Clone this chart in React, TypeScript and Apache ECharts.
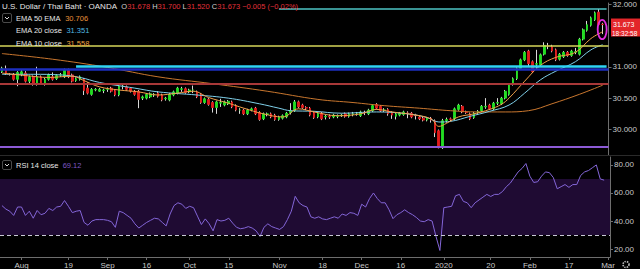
import React, { useEffect, useRef } from "react";
import * as echarts from "echarts";

// ---------- categories (FX trading days, no Christmas / New Year) ----------
const FIRST_DAY = [2019, 6, 25];
const LAST_DAY = [2020, 2, 2];
const HOLIDAYS = ["2019-12-25", "2020-01-01"];
function buildDates(): string[] {
  const out: string[] = [];
  const d = new Date(Date.UTC(FIRST_DAY[0], FIRST_DAY[1], FIRST_DAY[2]));
  const end = Date.UTC(LAST_DAY[0], LAST_DAY[1], LAST_DAY[2]);
  while (d.getTime() <= end) {
    const s = d.toISOString().slice(0, 10);
    const wd = d.getUTCDay();
    if (wd !== 0 && wd !== 6 && !HOLIDAYS.includes(s)) out.push(s);
    d.setUTCDate(d.getUTCDate() + 1);
  }
  return out;
}
const dates = buildDates();

const tickDates = ["2019-08-01", "2019-08-19", "2019-09-02", "2019-09-16", "2019-10-01", "2019-10-15", "2019-11-01", "2019-11-18", "2019-12-02", "2019-12-16", "2020-01-02", "2020-01-20", "2020-02-03", "2020-02-17", "2020-03-02"];
const tickLabels = ["Aug", "19", "Sep", "16", "Oct", "15", "Nov", "18", "Dec", "16", "2020", "20", "Feb", "17", "Mar"];

const priceTicks = [30, 30.5, 31, 32];
const rsiTicks = [20, 40, 60, 80];

// ---------- daily candles [open, close, low, high] ----------
const ohlc: number[][] = [
  [30.92, 30.98, 30.90, 31.00], [30.97, 30.89, 30.87, 31.02], [30.88, 30.88, 30.86, 30.90], [30.88, 30.80, 30.78, 30.90], [30.80, 30.91, 30.69, 30.93],
  [30.88, 30.92, 30.85, 30.95], [30.90, 30.77, 30.75, 30.93], [30.77, 30.84, 30.74, 30.86], [30.84, 30.72, 30.70, 30.86], [30.72, 30.84, 30.70, 31.00],
  [30.84, 30.74, 30.72, 30.86], [30.72, 30.80, 30.70, 30.82], [30.80, 30.87, 30.78, 30.89], [30.84, 30.80, 30.78, 30.91], [30.81, 30.86, 30.79, 30.88],
  [30.87, 30.87, 30.84, 30.90], [30.84, 30.95, 30.82, 30.97], [30.95, 30.84, 30.82, 30.97], [30.87, 30.77, 30.75, 30.89], [30.78, 30.81, 30.76, 30.83],
  [30.80, 30.84, 30.78, 30.86], [30.80, 30.62, 30.55, 30.82], [30.66, 30.58, 30.56, 30.75], [30.56, 30.64, 30.54, 30.66], [30.63, 30.64, 30.61, 30.66],
  [30.61, 30.64, 30.60, 30.66], [30.62, 30.63, 30.58, 30.65], [30.64, 30.64, 30.60, 30.67], [30.66, 30.61, 30.59, 30.68], [30.62, 30.55, 30.53, 30.64],
  [30.55, 30.69, 30.53, 30.71], [30.69, 30.69, 30.64, 30.73], [30.68, 30.64, 30.62, 30.70], [30.66, 30.61, 30.59, 30.67], [30.61, 30.56, 30.54, 30.63],
  [30.61, 30.48, 30.34, 30.63], [30.50, 30.52, 30.47, 30.54], [30.50, 30.56, 30.48, 30.58], [30.52, 30.57, 30.50, 30.59], [30.55, 30.56, 30.52, 30.58],
  [30.58, 30.53, 30.51, 30.61], [30.55, 30.47, 30.45, 30.57], [30.49, 30.50, 30.46, 30.52], [30.47, 30.56, 30.45, 30.58], [30.55, 30.60, 30.53, 30.62],
  [30.58, 30.66, 30.56, 30.68], [30.64, 30.65, 30.60, 30.68], [30.65, 30.59, 30.57, 30.67], [30.60, 30.63, 30.58, 30.65], [30.63, 30.63, 30.58, 30.70],
  [30.60, 30.52, 30.50, 30.62], [30.56, 30.43, 30.41, 30.58], [30.43, 30.49, 30.41, 30.51], [30.48, 30.40, 30.38, 30.50], [30.43, 30.35, 30.27, 30.45],
  [30.35, 30.44, 30.25, 30.46], [30.42, 30.43, 30.36, 30.49], [30.39, 30.44, 30.37, 30.46], [30.41, 30.45, 30.39, 30.47], [30.44, 30.36, 30.34, 30.46],
  [30.38, 30.31, 30.29, 30.40], [30.31, 30.31, 30.25, 30.34], [30.31, 30.25, 30.23, 30.33], [30.25, 30.31, 30.23, 30.33], [30.31, 30.33, 30.29, 30.35],
  [30.34, 30.25, 30.23, 30.36], [30.27, 30.16, 30.14, 30.29], [30.17, 30.25, 30.15, 30.27], [30.24, 30.25, 30.21, 30.27], [30.25, 30.20, 30.18, 30.27],
  [30.23, 30.16, 30.14, 30.25], [30.16, 30.20, 30.14, 30.22], [30.18, 30.22, 30.16, 30.24], [30.20, 30.26, 30.18, 30.28], [30.27, 30.30, 30.24, 30.42],
  [30.30, 30.44, 30.28, 30.47], [30.44, 30.36, 30.34, 30.46], [30.39, 30.35, 30.33, 30.41], [30.35, 30.34, 30.31, 30.37], [30.34, 30.23, 30.21, 30.36],
  [30.27, 30.19, 30.17, 30.29], [30.20, 30.26, 30.18, 30.28], [30.26, 30.17, 30.15, 30.28], [30.20, 30.21, 30.16, 30.24], [30.21, 30.20, 30.17, 30.24],
  [30.20, 30.23, 30.18, 30.25], [30.21, 30.22, 30.18, 30.24], [30.22, 30.23, 30.20, 30.25], [30.25, 30.21, 30.19, 30.27], [30.21, 30.25, 30.19, 30.27],
  [30.24, 30.25, 30.21, 30.28], [30.25, 30.25, 30.22, 30.28], [30.22, 30.28, 30.20, 30.30], [30.27, 30.27, 30.23, 30.30], [30.25, 30.31, 30.23, 30.33],
  [30.30, 30.38, 30.28, 30.40], [30.40, 30.34, 30.32, 30.42], [30.37, 30.30, 30.28, 30.39], [30.31, 30.31, 30.28, 30.34], [30.32, 30.25, 30.22, 30.34],
  [30.27, 30.23, 30.17, 30.29], [30.21, 30.25, 30.16, 30.27], [30.23, 30.26, 30.21, 30.28], [30.24, 30.28, 30.22, 30.30], [30.26, 30.26, 30.18, 30.29],
  [30.26, 30.20, 30.18, 30.28], [30.23, 30.22, 30.16, 30.25], [30.20, 30.17, 30.15, 30.22], [30.18, 30.15, 30.13, 30.20], [30.15, 30.18, 30.13, 30.20],
  [30.18, 30.15, 30.11, 30.20], [30.14, 29.95, 29.88, 30.16], [29.98, 29.71, 29.70, 30.00], [29.71, 30.14, 29.69, 30.17], [30.14, 30.16, 30.11, 30.19],
  [30.17, 30.16, 30.13, 30.19], [30.17, 30.33, 30.15, 30.35], [30.32, 30.39, 30.30, 30.41], [30.37, 30.28, 30.26, 30.39], [30.28, 30.27, 30.25, 30.30],
  [30.25, 30.17, 30.15, 30.27], [30.19, 30.26, 30.17, 30.28], [30.27, 30.29, 30.25, 30.31], [30.30, 30.37, 30.28, 30.39], [30.36, 30.37, 30.33, 30.50],
  [30.39, 30.33, 30.31, 30.41], [30.33, 30.42, 30.31, 30.44], [30.42, 30.43, 30.39, 30.50], [30.41, 30.50, 30.39, 30.52], [30.50, 30.61, 30.48, 30.63],
  [30.56, 30.72, 30.54, 30.74], [30.72, 30.81, 30.70, 30.83], [30.81, 30.97, 30.79, 30.99], [30.97, 31.11, 30.95, 31.13], [31.11, 31.23, 31.09, 31.25],
  [31.25, 31.05, 31.00, 31.27], [31.08, 30.92, 30.90, 31.10], [31.04, 31.05, 30.97, 31.27], [31.03, 31.19, 31.00, 31.21], [31.20, 31.34, 31.18, 31.39],
  [31.33, 31.33, 31.28, 31.38], [31.32, 31.25, 31.23, 31.35], [31.27, 31.11, 31.09, 31.29], [31.12, 31.20, 31.10, 31.22], [31.16, 31.23, 31.14, 31.25],
  [31.23, 31.18, 31.16, 31.25], [31.18, 31.25, 31.16, 31.27], [31.23, 31.24, 31.20, 31.30], [31.20, 31.44, 31.18, 31.46], [31.44, 31.59, 31.42, 31.61],
  [31.58, 31.67, 31.56, 31.73], [31.66, 31.78, 31.64, 31.80], [31.75, 31.86, 31.73, 31.88], [31.87, 31.67, 31.65, 31.92], [31.678, 31.673, 31.52, 31.70],
];

// ---------- moving averages: [bar index, value] ----------
const ema50: number[][] = [[0, 31.21], [13, 31.12], [27, 30.99], [40, 30.84], [54, 30.73], [68, 30.61], [81, 30.48], [90, 30.43], [98, 30.38], [107, 30.34], [115, 30.30], [122, 30.28], [129, 30.28], [135, 30.30], [141, 30.41], [148, 30.56], [154, 30.706]];
const ema20: number[][] = [[0, 30.88], [8, 30.88], [15, 30.87], [20, 30.83], [25, 30.75], [34, 30.66], [40, 30.60], [50, 30.55], [58, 30.50], [66, 30.41], [71, 30.34], [74, 30.30], [80, 30.29], [87, 30.26], [96, 30.28], [104, 30.25], [109, 30.19], [112, 30.12], [115, 30.13], [120, 30.21], [125, 30.29], [130, 30.39], [134, 30.58], [138, 30.79], [142, 30.93], [147, 31.08], [151, 31.27], [154, 31.351]];
const ema10: number[][] = [[0, 30.90], [6, 30.86], [12, 30.83], [18, 30.85], [21, 30.78], [25, 30.68], [30, 30.63], [35, 30.60], [40, 30.55], [45, 30.58], [49, 30.61], [53, 30.51], [58, 30.42], [62, 30.34], [67, 30.25], [72, 30.20], [76, 30.33], [80, 30.28], [86, 30.22], [92, 30.25], [96, 30.32], [100, 30.28], [105, 30.24], [110, 30.17], [112, 30.05], [114, 30.10], [117, 30.20], [121, 30.25], [125, 30.32], [128, 30.40], [130, 30.50], [134, 30.77], [138, 31.02], [142, 31.15], [147, 31.23], [151, 31.45], [154, 31.558]];

// ---------- RSI 14 ----------
const rsi: number[] = [
  51, 48.5, 47, 44, 50, 50, 44, 47, 42, 47.5,
  44.5, 45.5, 49, 47.5, 50, 50.5, 54.6, 50.5, 46, 47,
  47.5, 39, 37, 40, 41, 41, 41, 40.5, 39.5, 35.5,
  47, 46, 44, 42, 38, 35, 37, 39, 40.5, 42,
  41.5, 39, 36.5, 45, 51, 53, 52, 49, 50.5, 49.5,
  43.5, 37.5, 41.5, 38, 33, 41, 40, 40.5, 42, 38.5,
  35.5, 34.5, 35, 36, 35, 33, 29, 35.5, 38, 36,
  35, 34, 36, 41, 47, 57.6, 53, 51, 50, 43,
  42, 43, 41.5, 41, 42, 43, 42, 45, 44, 46,
  45.5, 44, 52, 50, 56, 60, 56, 53, 53, 48,
  41.7, 44.5, 46, 48, 46, 44.5, 42.5, 40, 39.5, 41,
  40, 29, 19, 49.5, 50, 50.5, 58, 59, 54, 53,
  49.5, 53, 55, 57, 59, 57.5, 59, 59, 61, 64.5,
  67, 71, 75, 77.5, 81, 72, 67.5, 68, 72, 75,
  74.5, 71, 63, 64.5, 66, 64, 66, 66, 72.5, 75,
  76, 78, 80, 70, 69.12,
];

// ---------- drawn horizontal levels ----------
const levelTop = 31.92;
const levelTopStart = 71;
const levelYellow = 31.344;
const levelCyan = 31.01;
const levelCyanStart = 19;
const levelBlue = 30.963;
const levelMaroon = 30.734;
const levelPurple = 29.734;

const lastClose = 31.673;
const headerTitle = "U.S. Dollar / Thai Baht · OANDA";
const headerOHLC = { O: "31.678", H: "31.700", L: "31.520", C: "31.673", chg: "−0.005 (−0.02%)" };
const legendValues = { ema50: "30.706", ema20: "31.351", ema10: "31.558", rsi: "69.12" };

const FONT = "'Liberation Sans', Arial, sans-serif";
const UP = "#22dd22";
const DOWN = "#e01b1b";
const WICK = "#d8d8d8";
const AXIS = "#6e6e6e";
const LABEL = "#c8c8c8";

function txt(x: number, y: number, text: string, fill: string, size = 8, extra: any = {}) {
  return {
    type: "text",
    x, y, silent: true, z: 100,
    style: { text, fill, font: `${size}px ${FONT}`, textVerticalAlign: "middle", verticalAlign: "middle", textAlign: "left", align: "left", ...extra },
  };
}

function legendLine(x: number, y: number, name: string, value: string, valueColor: string, size = 7.5) {
  return {
    type: "text", x, y, silent: true, z: 100,
    style: {
      text: `{n|${name}}  {v|${value}}`,
      font: `${size}px ${FONT}`, textVerticalAlign: "middle", verticalAlign: "middle",
      rich: {
        n: { fill: "#e6e6e6", color: "#e6e6e6", font: `${size}px ${FONT}` },
        v: { fill: valueColor, color: valueColor, font: `${size}px ${FONT}` },
      },
    },
  };
}

function chevronBox(y: number) {
  return [
    { type: "rect", silent: true, z: 100, shape: { x: 2.5, y: y + 0.5, width: 9, height: 9, r: 1.5 }, style: { fill: "none", stroke: "#4a4a4a", lineWidth: 1 } },
    { type: "polyline", silent: true, z: 101, shape: { points: [[5, y + 4], [7, y + 6], [9, y + 4]] }, style: { fill: "none", stroke: "#dddddd", lineWidth: 1 } },
  ];
}

export default function App() {
  const ref = useRef<HTMLDivElement>(null);
  useEffect(() => {
    document.body.style.margin = "0";
    const chart = echarts.init(ref.current!, null, { renderer: "svg" });
    const isTick = (_i: number, v: string) => tickDates.includes(v);
    const bodies = ohlc.map(([o, c]) => [o, c, Math.min(o, c), Math.max(o, c)]);
    const option: any = {
      animation: false,
      backgroundColor: "#000000",
      grid: [
        { left: 0, top: 0, width: 610, height: 155 },
        { left: 0, top: 157, width: 610, height: 101 },
      ],
      xAxis: [
        { type: "category", gridIndex: 0, data: dates, boundaryGap: true, axisLine: { show: false }, axisTick: { show: false }, axisLabel: { show: false }, splitLine: { show: false } },
        {
          type: "category", gridIndex: 1, data: dates, boundaryGap: true,
          axisLine: { show: true, lineStyle: { color: AXIS, width: 1 } },
          axisTick: { show: true, length: 3, interval: isTick, alignWithLabel: true, lineStyle: { color: AXIS } },
          axisLabel: { interval: isTick, formatter: (v: string) => { const i = tickDates.indexOf(v); return i >= 0 ? tickLabels[i] : ""; }, color: LABEL, fontSize: 8, fontFamily: FONT, margin: 4 },
          splitLine: { show: false },
        },
      ],
      yAxis: [
        {
          type: "value", gridIndex: 0, position: "right", min: 29.594, max: 32.016,
          splitLine: { show: false },
          axisLine: { show: true, lineStyle: { color: AXIS } },
          axisTick: { show: true, length: 3, customValues: priceTicks, lineStyle: { color: AXIS } },
          axisLabel: { customValues: priceTicks, formatter: (v: number) => v.toFixed(3), color: LABEL, fontSize: 8, fontFamily: FONT, margin: 4 },
        },
        {
          type: "value", gridIndex: 1, position: "right", min: 14.35, max: 85.65,
          splitLine: { show: false },
          axisLine: { show: true, lineStyle: { color: AXIS } },
          axisTick: { show: true, length: 3, customValues: rsiTicks, lineStyle: { color: AXIS } },
          axisLabel: { customValues: rsiTicks, formatter: (v: number) => v.toFixed(2), color: LABEL, fontSize: 8, fontFamily: FONT, margin: 4 },
        },
      ],
      series: [
        {
          name: "wicks", type: "candlestick", xAxisIndex: 0, yAxisIndex: 0, data: ohlc, barWidth: 1, z: 2, silent: true,
          itemStyle: { color: WICK, color0: WICK, borderColor: WICK, borderColor0: WICK, borderWidth: 1 },
        },
        {
          name: "bodies", type: "candlestick", xAxisIndex: 0, yAxisIndex: 0, data: bodies, barWidth: 2.2, z: 3, silent: true,
          itemStyle: { color: UP, color0: DOWN, borderColor: UP, borderColor0: DOWN, borderWidth: 0.9 },
        },
        {
          name: "EMA 50", type: "line", xAxisIndex: 0, yAxisIndex: 0, data: ema50, smooth: 0.4, showSymbol: false, z: 4, silent: true,
          lineStyle: { color: "#c8762e", width: 1 },
          markLine: {
            silent: true, symbol: ["none", "none"], label: { show: false }, z: 6,
            data: [
              [{ coord: [levelTopStart, levelTop] }, { coord: [dates.length - 1, levelTop] }],
              { yAxis: levelYellow, lineStyle: { color: "#d6d65a", width: 1.5, type: "solid" } },
              { yAxis: levelBlue, lineStyle: { color: "#1d2fbf", width: 2.5, type: "solid" } },
              [{ coord: [levelCyanStart, levelCyan], lineStyle: { color: "#2ed3f5", width: 2.5, type: "solid" } }, { coord: [dates.length - 1, levelCyan] }],
              { yAxis: levelMaroon, lineStyle: { color: "#a83838", width: 2, type: "solid" } },
              { yAxis: levelPurple, lineStyle: { color: "#8c5ad6", width: 2, type: "solid" } },
            ],
            lineStyle: { color: "#4cc4c4", width: 1.5, type: "solid" },
          },
        },
        { name: "EMA 20", type: "line", xAxisIndex: 0, yAxisIndex: 0, data: ema20, smooth: 0.4, showSymbol: false, z: 4, silent: true, lineStyle: { color: "#7fd0ea", width: 1 } },
        { name: "EMA 10", type: "line", xAxisIndex: 0, yAxisIndex: 0, data: ema10, smooth: 0.4, showSymbol: false, z: 4, silent: true, lineStyle: { color: "#f0a04a", width: 1 } },
        {
          name: "RSI", type: "line", xAxisIndex: 1, yAxisIndex: 1, data: rsi, showSymbol: false, z: 4, silent: true,
          lineStyle: { color: "#8466d8", width: 1 },
          markArea: { silent: true, itemStyle: { color: "#1f0b33" }, data: [[{ yAxis: 70 }, { yAxis: 30 }]] },
          markLine: { silent: true, symbol: ["none", "none"], label: { show: false }, data: [{ yAxis: 30 }], lineStyle: { color: "#c8c8d4", width: 1, type: [4, 3] } },
        },
      ],
    };
    chart.setOption(option);

    const tag = chart.convertToPixel({ xAxisIndex: 0, yAxisIndex: 0 }, [ohlc.length - 1, lastClose]) as number[];
    const last = ohlc[ohlc.length - 1];
    const top = chart.convertToPixel({ xAxisIndex: 0, yAxisIndex: 0 }, [ohlc.length - 1, last[3]]) as number[];
    const bot = chart.convertToPixel({ xAxisIndex: 0, yAxisIndex: 0 }, [ohlc.length - 1, last[2]]) as number[];

    const hf = `7.5px ${FONT}`;
    const graphics: any[] = [
      { type: "line", silent: true, z: 90, shape: { x1: 0, y1: 155.5, x2: 640, y2: 155.5 }, style: { stroke: "#2a2a2a", lineWidth: 1 } },
      {
        type: "text", x: 2, y: 6, silent: true, z: 100,
        style: {
          text: `{t|${headerTitle}}  {l|O}{v|${headerOHLC.O}} {l|H}{v|${headerOHLC.H}} {l|L}{v|${headerOHLC.L}} {l|C}{v|${headerOHLC.C}} {v|${headerOHLC.chg}}`,
          font: hf, textVerticalAlign: "middle", verticalAlign: "middle",
          rich: {
            t: { fill: "#e6e6e6", color: "#e6e6e6", font: `8px ${FONT}` },
            l: { fill: "#d0d0d0", color: "#d0d0d0", font: hf },
            v: { fill: "#e0303a", color: "#e0303a", font: hf },
          },
        },
      },
      ...chevronBox(13),
      legendLine(16, 18, "EMA 50 EMA", legendValues.ema50, "#e8903a"),
      legendLine(16, 30.5, "EMA 20 close", legendValues.ema20, "#4fb8e0"),
      legendLine(16, 43, "EMA 10 close", legendValues.ema10, "#f0a040"),
      ...chevronBox(160),
      legendLine(16, 165, "RSI 14 close", legendValues.rsi, "#7e57c2"),
      { type: "ellipse", silent: true, z: 95, shape: { cx: top[0] - 0.5, cy: (top[1] + bot[1]) / 2 + 1, rx: 4.5, ry: (bot[1] - top[1]) / 2 + 4 }, style: { fill: "none", stroke: "#e02ee0", lineWidth: 1.8 } },
      { type: "rect", silent: true, z: 100, shape: { x: 611, y: tag[1] - 6, width: 29, height: 18 }, style: { fill: "#e3262a" } },
      txt(613, tag[1], lastClose.toFixed(3), "#ffffff", 7),
      txt(612, tag[1] + 8.5, "18:32:58", "#ffffff", 6.5),
      { type: "circle", silent: true, z: 100, shape: { cx: 626, cy: 264.5, r: 3 }, style: { fill: "none", stroke: "#bbbbbb", lineWidth: 1.6, lineDash: [1.4, 1] } },
    ];
    chart.setOption({ graphic: graphics });

    return () => chart.dispose();
  }, []);
  return <div ref={ref} style={{ position: "fixed", left: 0, top: 0, width: 640, height: 269, background: "#000" }} />;
}
